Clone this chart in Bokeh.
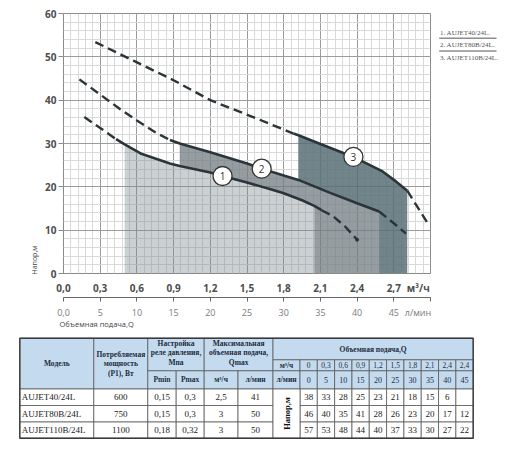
import math
from bokeh.plotting import figure
from bokeh.models import (Range1d, LinearAxis, SingleIntervalTicker, FixedTicker, CustomJSTickFormatter, Title)
from bokeh.layouts import column, row
from bokeh.embed import file_html
from bokeh.resources import INLINE
from bokeh.core.properties import value

# ---------------- chart data (Q in m3/h, head in m) ----------------
c1_x = [0.17, 0.30, 0.43, 0.50, 0.63, 0.87, 0.95, 1.20, 1.30, 1.50, 1.70, 1.80, 1.95, 2.05, 2.11, 2.20, 2.30, 2.40]
c1_y = [36.1, 33.6, 31.0, 29.8, 27.7, 25.4, 24.8, 23.3, 22.5, 21.0, 19.4, 18.5, 16.9, 15.6, 14.6, 13.3, 10.9, 7.8]
c2_x = [0.13, 0.30, 0.45, 0.60, 0.75, 0.87, 0.95, 1.20, 1.50, 1.62, 1.80, 1.92, 2.18, 2.40, 2.58, 2.70, 2.80]
c2_y = [44.8, 41.3, 38.2, 35.3, 32.6, 30.8, 30.0, 28.0, 25.4, 24.2, 22.6, 21.6, 18.6, 16.2, 14.3, 11.6, 9.2]
c3_x = [0.26, 0.58, 0.90, 1.20, 1.55, 1.88, 1.92, 2.10, 2.37, 2.60, 2.72, 2.81, 2.97]
c3_y = [53.4, 49.0, 44.6, 40.0, 36.1, 32.3, 31.9, 29.9, 26.9, 23.7, 21.2, 19.1, 11.9]

# working (solid) range and shaded range of each curve
c1_solid = (0.43, 2.11); c1_zone = (0.50, 2.05)
c2_solid = (0.87, 2.58); c2_zone = (0.95, 2.58)
c3_solid = (1.88, 2.81); c3_zone = (1.92, 2.81)

marker_x = [1.30, 1.62, 2.37]
marker_y = [22.5, 24.2, 26.9]
marker_labels = ["1", "2", "3"]

legend_labels = ["1. AUJET40/24L.", "2. AUJET80B/24L.", "3. AUJET110B/24L."]

# axis ticks (m3/h axis with its unit label, l/min axis with its unit label)
x_ticks_m3h = [0, 0.3, 0.6, 0.9, 1.2, 1.5, 1.8, 2.1, 2.4, 2.7, 2.9]
x_ticks_lpm = [0, 5, 10, 15, 20, 25, 30, 35, 40, 45, 48.3]
x_marks_lpm = [0, 5, 10, 15, 20, 25, 30, 35, 40, 45, 50]

# ---------------- table data ----------------
models = ["AUJET40/24L", "AUJET80B/24L", "AUJET110B/24L"]
power = ["600", "750", "1100"]
pmin = ["0,15", "0,15", "0,18"]
pmax = ["0,3", "0,3", "0,32"]
qmax_m3h = ["2,5", "3", "3"]
qmax_lpm = ["41", "50", "50"]
q_m3h = ["0", "0,3", "0,6", "0,9", "1,2", "1,5", "1,8", "2,1", "2,4", "2,4"]
q_lpm = ["0", "5", "10", "15", "20", "25", "30", "35", "40", "45"]
head_rows = [
    ["38", "33", "28", "25", "23", "21", "18", "15", "6", ""],
    ["46", "40", "35", "41", "28", "26", "23", "20", "17", "12"],
    ["57", "53", "48", "44", "40", "37", "33", "30", "27", "22"],
]


def seg(xs, ys, lo, hi):
    px = [x for x in xs if lo <= x <= hi]
    py = [y for x, y in zip(xs, ys) if lo <= x <= hi]
    return px, py


# ---------------- chart ----------------
p = figure(width=436, height=328, x_range=Range1d(0, 3), y_range=Range1d(0, 60),
           output_backend="svg", toolbar_location=None,
           min_border_left=63, min_border_right=6, min_border_top=13, min_border_bottom=55)
p.extra_x_ranges = {"lpm": Range1d(0, 50)}

xt = SingleIntervalTicker(interval=0.3, num_minor_ticks=5)
yt = SingleIntervalTicker(interval=10, num_minor_ticks=5)
p.xgrid.ticker = xt
p.yaxis.ticker = yt
p.ygrid.ticker = yt

for g in (p.xgrid, p.ygrid):
    g.grid_line_color = "#9c9c9c"
    g.grid_line_width = 1
    g.minor_grid_line_color = "#d9d9d9"
    g.minor_grid_line_width = 1
p.outline_line_color = "#8a8a8a"
p.background_fill_color = "white"

ax = p.xaxis[0]
ax.ticker = FixedTicker(ticks=x_ticks_m3h)
ax.formatter = CustomJSTickFormatter(code="return tick > 2.8 ? 'м³/ч' : tick.toFixed(1).replace('.', ',')")
ax.axis_line_color = None
ax.major_tick_line_color = None
ax.minor_tick_line_color = None
ax.major_tick_out = 0
ax.major_tick_in = 0
ax.minor_tick_out = 0
ax.minor_tick_in = 0
ax.major_label_standoff = 7
ax.major_label_text_font = "Open Sans"
ax.major_label_text_font_style = "bold"
ax.major_label_text_font_size = "10px"
ax.major_label_text_color = "#4d4d4d"

ay = p.yaxis[0]
ay.axis_line_color = None
ay.major_tick_out = 5
ay.major_tick_in = 0
ay.major_tick_line_color = "#8a8a8a"
ay.minor_tick_line_color = None
ay.major_label_standoff = 2
ay.major_label_text_font = "Open Sans"
ay.major_label_text_font_style = "bold"
ay.major_label_text_font_size = "10px"
ay.major_label_text_color = "#4d4d4d"

ax2 = LinearAxis(x_range_name="lpm",
                 ticker=FixedTicker(ticks=x_ticks_lpm, minor_ticks=x_marks_lpm),
                 formatter=CustomJSTickFormatter(code="return tick == 0 ? '0,0' : (tick > 46 ? 'л/мин' : tick.toFixed(0))"))
ax2.axis_line_color = "#666666"
ax2.major_tick_line_color = None
ax2.major_tick_out = 4
ax2.major_tick_in = 0
ax2.minor_tick_line_color = "#666666"
ax2.minor_tick_out = 4
ax2.minor_tick_in = 0
ax2.major_label_standoff = 4
ax2.major_label_text_font = "Open Sans"
ax2.major_label_text_font_size = "9px"
ax2.major_label_text_color = "#7a7a7a"
p.add_layout(ax2, "below")

x_title = Title(text="Объемная подача,Q", align="left", offset=-4, standoff=0, vertical_align="top",
                text_font="Open Sans", text_font_size="7.5px", text_font_style="normal",
                text_color="#444444")
try:
    x_title.standoff = -6
except Exception:
    pass
p.add_layout(x_title, "below")
p.add_layout(Title(text="Напор,м", align="left", offset=-1, standoff=7,
                   text_font="Open Sans", text_font_size="7px", text_font_style="normal",
                   text_color="#444444"), "left")

# shaded working zones (non-overlapping bands)
x1z, y1z = seg(c1_x, c1_y, *c1_zone)
f1x = x1z + [c1_zone[1], c1_zone[0]]
f1y = y1z + [0, 0]

x2z, y2z = seg(c2_x, c2_y, *c2_zone)
x1b, y1b = seg(c1_x, c1_y, c2_zone[0], c1_zone[1])
f2x = x2z + [c2_zone[1], c1_zone[1]] + x1b[::-1]
f2y = y2z + [0, 0] + y1b[::-1]

x3z, y3z = seg(c3_x, c3_y, *c3_zone)
x2b, y2b = seg(c2_x, c2_y, c3_zone[0], c2_zone[1])
f3x = x3z + [c3_zone[1], c2_zone[1]] + x2b[::-1]
f3y = y3z + [0, 0] + y2b[::-1]

p.patch(f1x, f1y, fill_color="#7d8a90", fill_alpha=0.4, line_color=None)
p.patch(f2x, f2y, fill_color="#727c82", fill_alpha=0.75, line_color=None)
p.patch(f3x, f3y, fill_color="#576f74", fill_alpha=0.85, line_color=None)

curve_color = "#2b3539"
for xs, ys, (lo, hi) in [(c1_x, c1_y, c1_solid), (c2_x, c2_y, c2_solid), (c3_x, c3_y, c3_solid)]:
    hx, hy = seg(xs, ys, xs[0], lo)
    sx, sy = seg(xs, ys, lo, hi)
    tx, ty = seg(xs, ys, hi, xs[-1])
    p.line(hx, hy, line_color=curve_color, line_width=2.4, line_dash="9 5")
    p.line(sx, sy, line_color=curve_color, line_width=2.6)
    p.line(tx, ty, line_color=curve_color, line_width=2.4, line_dash="9 5")

# end dot of curve 1
p.scatter([c1_x[-1]], [c1_y[-1]], size=3, color=curve_color)

p.scatter(marker_x, marker_y, size=19, fill_color="white", line_color="#333333", line_width=1.3)
p.text(marker_x, marker_y, text=marker_labels, text_align="center", text_baseline="middle",
       text_font=value("Open Sans"), text_font_size="10px", text_color="#333333")

# ---------------- legend (separate narrow figure, pixel coordinates) ----------------
lg = figure(width=76, height=328, x_range=Range1d(436, 512), y_range=Range1d(328, 0),
            output_backend="svg", toolbar_location=None, min_border=0)
lg.axis.visible = False
lg.grid.visible = False
lg.outline_line_color = None
leg_y = [24 + 16 * i for i in range(len(legend_labels))]
lg.text([439.5] * len(legend_labels), leg_y, text=legend_labels, text_font=value("Liberation Serif"),
        text_font_size="7px", text_baseline="middle", text_color="#555555")
sep_y = [y + 7.3 for y in leg_y[:-1]]
lg.segment([438.7] * len(sep_y), sep_y, [496] * len(sep_y), sep_y, line_color="#8c8c8c", line_width=1.6)

# ---------------- table (pixel coordinates) ----------------
t = figure(width=512, height=126, x_range=Range1d(0, 512), y_range=Range1d(454, 328),
           output_backend="svg", toolbar_location=None, min_border=0)
t.axis.visible = False
t.grid.visible = False
t.outline_line_color = None

xl = [19.3, 93.3, 147.3, 175.7, 203.7, 237.5, 272.5, 299.5]
x_end = 472.7
qw = (x_end - xl[-1]) / len(q_lpm)
qx = [xl[-1] + i * qw for i in range(len(q_lpm) + 1)]
yr = [337.7, 359.3, 370.3, 388.5, 405.0, 421.5, 437.7]

HDR = "#c4dbef"
cells = []  # (l, r, top, bottom, color)
cells += [(xl[0], xl[1], yr[0], yr[3], HDR), (xl[1], xl[2], yr[0], yr[3], HDR),
          (xl[2], xl[4], yr[0], yr[2], HDR), (xl[2], xl[3], yr[2], yr[3], HDR), (xl[3], xl[4], yr[2], yr[3], HDR),
          (xl[4], xl[6], yr[0], yr[2], HDR), (xl[4], xl[5], yr[2], yr[3], HDR), (xl[5], xl[6], yr[2], yr[3], HDR),
          (xl[6], x_end, yr[0], yr[1], HDR), (xl[6], xl[7], yr[1], yr[2], HDR), (xl[6], xl[7], yr[2], yr[3], HDR)]
for i in range(len(q_lpm)):
    cells.append((qx[i], qx[i + 1], yr[1], yr[2], HDR))
    cells.append((qx[i], qx[i + 1], yr[2], yr[3], HDR))
for r in range(len(models)):
    for c in range(6):
        cells.append((xl[c], xl[c + 1], yr[3 + r], yr[4 + r], "white"))
    for i in range(len(q_lpm)):
        cells.append((qx[i], qx[i + 1], yr[3 + r], yr[4 + r], "white"))
cells.append((xl[6], xl[7], yr[3], yr[6], "white"))

t.quad(left=[c[0] for c in cells], right=[c[1] for c in cells], top=[c[2] for c in cells],
       bottom=[c[3] for c in cells], fill_color=[c[4] for c in cells], line_color="#5a5a5a", line_width=0.8)
t.quad(left=[xl[0]], right=[x_end], top=[yr[0]], bottom=[yr[6]], fill_color=None,
       line_color="#3a3a3a", line_width=1.4)

HTXT = "#1d2b3a"
hx, hy, ht = [], [], []
def hc(l, r, tp, bt, s):
    hx.append((l + r) / 2); hy.append((tp + bt) / 2); ht.append(s)

hc(xl[0], xl[1], yr[0], yr[3], "Модель")
hc(xl[1], xl[2], yr[0], yr[3], "Потребляемая\nмощность\n(P1), Вт")
hc(xl[2], xl[4], yr[0], yr[2] - 3, "Настройка\nреле давления,\nМпа")
hc(xl[2], xl[3], yr[2], yr[3], "Pmin")
hc(xl[3], xl[4], yr[2], yr[3], "Pmax")
hc(xl[4], xl[6], yr[0], yr[2] - 3, "Максимальная\nобъемная подача,\nQmax")
hc(xl[4], xl[5], yr[2], yr[3], "м³/ч")
hc(xl[5], xl[6], yr[2], yr[3], "л/мин")
hc(xl[6], x_end, yr[0], yr[1], "Объемная подача,Q")
hc(xl[6], xl[7], yr[1], yr[2], "м³/ч")
hc(xl[6], xl[7], yr[2], yr[3], "л/мин")
t.text(hx, hy, text=ht, text_align="center", text_baseline="middle", text_font=value("Liberation Serif"),
       text_font_style="bold", text_font_size="7.5px", text_color=HTXT, text_line_height=1.05)

qcx = [(qx[i] + qx[i + 1]) / 2 for i in range(len(q_lpm))]
t.text(qcx, [(yr[1] + yr[2]) / 2] * len(q_m3h), text=q_m3h, text_align="center", text_baseline="middle",
       text_font=value("Liberation Serif"), text_font_size="7.5px", text_color=HTXT)
t.text(qcx, [(yr[2] + yr[3]) / 2] * len(q_lpm), text=q_lpm, text_align="center", text_baseline="middle",
       text_font=value("Liberation Serif"), text_font_size="8px", text_color=HTXT)

t.text([(xl[6] + xl[7]) / 2], [(yr[3] + yr[6]) / 2], text=["Напор,м"], angle=math.pi / 2,
       text_align="center", text_baseline="middle", text_font=value("Liberation Serif"),
       text_font_style="bold", text_font_size="8.5px", text_color="#111111")

ry = [(yr[3 + r] + yr[4 + r]) / 2 for r in range(len(models))]
t.text([xl[0] + 2] * len(models), ry, text=models, text_align="left", text_baseline="middle",
       text_font=value("Liberation Serif"), text_font_size="9px", text_color="#222222")
for c, col in enumerate([power, pmin, pmax, qmax_m3h, qmax_lpm]):
    t.text([(xl[c + 1] + xl[c + 2]) / 2] * len(col), ry, text=col, text_align="center", text_baseline="middle",
           text_font=value("Liberation Serif"), text_font_size="9px", text_color="#222222")
for r, vals in enumerate(head_rows):
    t.text(qcx, [ry[r]] * len(vals), text=vals, text_align="center", text_baseline="middle",
           text_font=value("Liberation Serif"), text_font_size="9px", text_color="#222222")

layout = column(row(p, lg), t)
open("out.html", "w").write(file_html(layout, INLINE))
